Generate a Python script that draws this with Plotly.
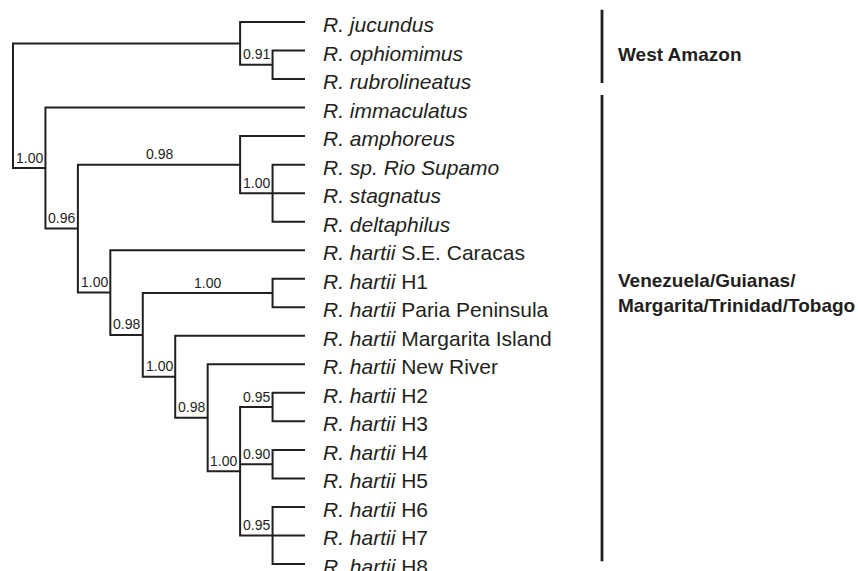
import plotly.graph_objects as go

# ---------------- data ----------------
leaf_taxa = ["R. jucundus", "R. ophiomimus", "R. rubrolineatus", "R. immaculatus",
             "R. amphoreus", "R. sp. Rio Supamo", "R. stagnatus", "R. deltaphilus",
             "R. hartii", "R. hartii", "R. hartii", "R. hartii", "R. hartii",
             "R. hartii", "R. hartii", "R. hartii", "R. hartii", "R. hartii",
             "R. hartii", "R. hartii"]
leaf_locality = ["", "", "", "", "", "", "", "",
                 "S.E. Caracas", "H1", "Paria Peninsula", "Margarita Island", "New River",
                 "H2", "H3", "H4", "H5", "H6", "H7", "H8"]
leaf_parent = ["WA", "WA2", "WA2", "A", "B", "B2", "B2", "B2", "D", "HP", "HP", "F", "G",
               "H23", "H23", "H45", "H45", "H678", "H678", "H678"]
leaf_depth = 9

node_ids = ["root", "WA", "WA2", "A", "C", "B", "B2", "D", "E", "HP", "F", "G", "H",
            "H23", "H45", "H678"]
node_parent = [None, "root", "WA", "root", "A", "C", "B", "C", "D", "E", "E", "F", "G",
               "H", "H", "H"]
node_depth = [0, 7, 8, 1, 2, 7, 8, 3, 4, 8, 5, 6, 7, 8, 8, 8]
node_support = [None, None, "0.91", "1.00", "0.96", "0.98", "1.00", "1.00", "0.98",
                "1.00", "1.00", "0.98", "1.00", "0.95", "0.90", "0.95"]

group_names = ["West Amazon", "Venezuela/Guianas/<br>Margarita/Trinidad/Tobago"]
group_first_leaf = [0, 3]
group_last_leaf = [2, 19]

# ---------------- layout constants ----------------
W, H = 858, 571
INK = "#231f20"
FONT = "Liberation Sans, Arial, Helvetica, sans-serif"
px_per_depth = 292 / 9.0
px_per_leaf = (564 - 22) / 19.0
x_range = [-13 / px_per_depth, (W - 13) / px_per_depth]
y_range = [(H - 22) / px_per_leaf, -22 / px_per_leaf]
bar_x = (602 - 13) / px_per_depth
bar_pad_top = [0.43, 0.44]
bar_pad_bottom = [0.14, -0.1]
group_label_y = [1.15, 9.51]

# ---------------- tree geometry ----------------
depth = {n: d for n, d in zip(node_ids, node_depth)}
parent = {n: p for n, p in zip(node_ids, node_parent)}
children = {n: [] for n in node_ids}
ypos = {}
for i, p in enumerate(leaf_parent):
    key = ("leaf", i)
    depth[key] = leaf_depth
    ypos[key] = i
    children[p].append(key)
for n, p in zip(node_ids, node_parent):
    if p is not None:
        children[p].append(n)


def get_y(n):
    if n in ypos:
        return ypos[n]
    ys = [get_y(c) for c in children[n]]
    ypos[n] = (min(ys) + max(ys)) / 2.0
    return ypos[n]


get_y("root")

xs, ys = [], []
for n in node_ids:
    d = depth[n]
    kids = sorted(children[n], key=lambda c: ypos[c])
    first, last = kids[0], kids[-1]
    xs += [depth[first], d, d, depth[last], None]
    ys += [ypos[first], ypos[first], ypos[last], ypos[last], None]
    for k in kids[1:-1]:
        xs += [d, depth[k], None]
        ys += [ypos[k], ypos[k], None]

fig = go.Figure()
fig.add_trace(go.Scatter(x=xs, y=ys, mode="lines",
                         line=dict(color=INK, width=2), hoverinfo="skip",
                         showlegend=False))

# group bars
for gi in range(len(group_names)):
    fig.add_trace(go.Scatter(
        x=[bar_x, bar_x],
        y=[group_first_leaf[gi] - bar_pad_top[gi], group_last_leaf[gi] + bar_pad_bottom[gi]],
        mode="lines", line=dict(color=INK, width=2.8), hoverinfo="skip",
        showlegend=False))

annotations = []
# leaf labels
for i, (t, loc) in enumerate(zip(leaf_taxa, leaf_locality)):
    txt = "<i>%s</i>" % t + (" " + loc if loc else "")
    annotations.append(dict(x=leaf_depth, y=i, text=txt, showarrow=False,
                            xanchor="left", yanchor="middle", xshift=16, yshift=-2.5,
                            font=dict(family=FONT, size=21, color=INK)))
# support values
for n, s in zip(node_ids, node_support):
    if s is None:
        continue
    xm = (depth[parent[n]] + depth[n]) / 2.0
    annotations.append(dict(x=xm, y=ypos[n], text=s, showarrow=False,
                            xanchor="center", yanchor="middle", yshift=10.5,
                            font=dict(family=FONT, size=14, color=INK)))
# group labels
for gi, g in enumerate(group_names):
    annotations.append(dict(x=bar_x, y=group_label_y[gi], text="<b>%s</b>" % g,
                            showarrow=False, xanchor="left", yanchor="middle",
                            align="left", xshift=14,
                            font=dict(family=FONT, size=19, color=INK)))

fig.update_layout(
    width=W, height=H, autosize=False,
    margin=dict(l=0, r=0, t=0, b=0),
    paper_bgcolor="white", plot_bgcolor="white",
    xaxis=dict(range=x_range, visible=False, showgrid=False, zeroline=False, fixedrange=True),
    yaxis=dict(range=y_range, visible=False, showgrid=False, zeroline=False, fixedrange=True),
    annotations=annotations,
)

fig.write_html(
    "out.html",
    config={"displayModeBar": False},
    post_script="document.body.style.margin='0';document.body.style.padding='0';"
                "document.body.style.overflow='hidden';",
)
